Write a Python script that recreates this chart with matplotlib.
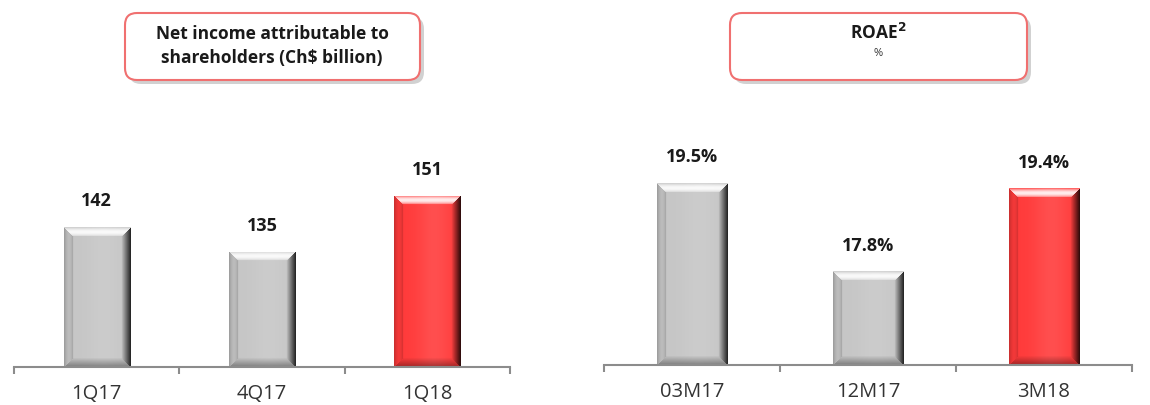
import numpy as np
import matplotlib
matplotlib.use("Agg")
import matplotlib.pyplot as plt
from matplotlib.patches import FancyBboxPatch
from matplotlib.colors import to_rgb

plt.rcParams['font.family'] = ['Open Sans', 'DejaVu Sans']

# Data
ni_labels = ["1Q17", "4Q17", "1Q18"]
ni_values = [142, 135, 151]
roae_labels = ["03M17", "12M17", "3M18"]
roae_values = [19.5, 17.8, 19.4]
bar_colors = ["#c6c6c6", "#c6c6c6", "#ff3b3b"]

fig = plt.figure(figsize=(11.5, 4.05), dpi=100)


def bevel_bar(ax, patch, color, b=9):
    # shade a bar like the old office "bevel" bars
    (x0, y0), (x1, y1) = ax.transData.transform([(patch.get_x(), patch.get_y()),
                                                  (patch.get_x() + patch.get_width(),
                                                   patch.get_y() + patch.get_height())])
    w, h = int(round(x1 - x0)), int(round(y1 - y0))
    base = np.array(to_rgb(color))
    jj, ii = np.meshgrid(np.arange(w), np.arange(h))
    dl, dr, dt, db = jj, w - 1 - jj, ii, h - 1 - ii
    m = np.minimum(np.minimum(dl, dr), np.minimum(dt, db))
    img = np.tile(base, (h, w, 1))
    # soft highlight stripe in the middle
    xn = jj / max(w - 1, 1)
    glow = np.exp(-((xn - 0.6) / 0.25) ** 2) * 0.10
    img = img + (1 - img) * glow[..., None]
    t = np.clip(1 - m / b, 0, 1)[..., None]
    top = (dt == m) & (m < b)
    right = (dr == m) & (m < b) & ~top
    left = (dl == m) & (m < b) & ~top & ~right
    bottom = (db == m) & (m < b) & ~top & ~right & ~left
    img = np.where(top[..., None], img + (1 - img) * (0.2 + 0.7 * np.sin(np.pi * t)), img)
    img = np.where(right[..., None], img * (1 - 0.8 * t), img)
    img = np.where(left[..., None], img * (0.8 + 0.15 * np.sin(np.pi * t)), img)
    img = np.where(bottom[..., None], img * (1 - 0.35 * t), img)
    im = ax.imshow(np.clip(img, 0, 1), extent=(patch.get_x(), patch.get_x() + patch.get_width(),
                                                patch.get_y(), patch.get_y() + patch.get_height()),
                   aspect="auto", origin="upper", interpolation="bilinear", zorder=3)
    im.set_clip_path(patch)


def panel(rect, labels, values, ylim, fmt):
    ax = fig.add_axes(rect)
    x = np.arange(len(values))
    vals = np.array(values, dtype=float)
    bars = ax.bar(x, vals - ylim[0], bottom=ylim[0], width=0.4, color=bar_colors,
                  edgecolor="#8a8a8a", linewidth=0.6, zorder=2)
    ax.set_xlim(-0.5, len(values) - 0.5)
    ax.set_ylim(*ylim)
    for bar, c in zip(bars, bar_colors):
        bevel_bar(ax, bar, c)
    for xi, v in zip(x, values):
        ax.annotate(fmt(v), (xi, v), xytext=(0, 12), textcoords="offset points",
                    ha="center", va="bottom", fontsize=13, fontweight="bold", color="#1a1a1a")
    for s in ["top", "right", "left"]:
        ax.spines[s].set_visible(False)
    ax.spines["bottom"].set_color("#8c8c8c")
    ax.spines["bottom"].set_linewidth(1.5)
    ax.spines["bottom"].set_zorder(4)
    ax.set_yticks([])
    ax.set_xticks(np.arange(-0.5, len(values)))
    ax.set_xticklabels([])
    ax.tick_params(axis="x", which="major", length=5, width=1.5, color="#8c8c8c")
    ax.set_xticks(x, minor=True)
    ax.set_xticklabels(labels, minor=True, fontsize=14.5, color="#333333")
    ax.tick_params(axis="x", which="minor", length=0, pad=12)
    ax.patch.set_alpha(0)
    return ax


panel([14 / 1150, 38 / 405, 496 / 1150, 267 / 405], ni_labels, ni_values,
      (102, 178.3), lambda v: f"{v:d}")
panel([604 / 1150, 40 / 405, 528 / 1150, 265 / 405], roae_labels, roae_values,
      (16, 21.1), lambda v: f"{v:.1f}%")

# title boxes, drawn in pixel coordinates
deco = fig.add_axes([0, 0, 1, 1], zorder=5)
deco.set_xlim(0, 1150)
deco.set_ylim(405, 0)
deco.axis("off")
deco.patch.set_alpha(0)

for bx, bw in [(125, 295), (730, 297)]:
    shadow = FancyBboxPatch((bx + 4, 17), bw, 67, boxstyle="round,pad=0,rounding_size=12",
                            facecolor="#9a9a9a", edgecolor="none", alpha=0.45)
    box = FancyBboxPatch((bx, 13), bw, 67, boxstyle="round,pad=0,rounding_size=12",
                         facecolor="white", edgecolor="#f07070", linewidth=1.5)
    deco.add_patch(shadow)
    deco.add_patch(box)

deco.text(272, 46, "Net income attributable to\nshareholders (Ch$ billion)", ha="center",
          va="center", fontsize=12.5, fontweight="bold", color="#1a1a1a", linespacing=1.45)
deco.text(878, 33, r"ROAE$^{\mathbf{2}}$", ha="center", va="center", fontsize=12.5,
          fontweight="bold", color="#1a1a1a")
deco.text(878, 54, "%", ha="center", va="center", fontsize=8, color="#333333")

fig.savefig("out.png", dpi=100)
